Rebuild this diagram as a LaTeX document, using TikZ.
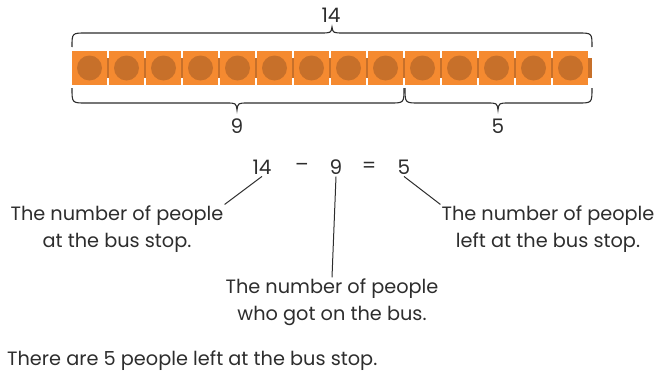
\documentclass[tikz,border=0pt]{standalone}
\usepackage{fontspec}
\setmainfont{Poppins}
\usepackage{xcolor}
\usepackage{tikz}
\usetikzlibrary{positioning}

\definecolor{cubeorange}{RGB}{245,138,48}
\definecolor{pegorange}{RGB}{199,112,42}
\definecolor{inkgray}{RGB}{45,45,45}

\begin{document}
\begin{tikzpicture}[
			x=1pt, y=-1pt,
			cube/.style   = {fill=cubeorange},
			peg/.style    = {fill=pegorange},
			bracket/.style = {draw=inkgray, line width=1.1pt},
			num/.style    = {inner sep=2pt, text=inkgray, font=\fontsize{20}{27}\selectfont},
			note/.style   = {align=center, inner sep=1pt, text=inkgray, font=\fontsize{19.3}{27}\selectfont},
			link/.style   = {draw=inkgray, line width=1pt}
			]
			\useasboundingbox (0,0) rectangle (657,375);

			% cube train
			\fill[peg] (72,58) rectangle (592,78);
			\foreach \i in {0,...,13} {
					\fill[cube] (72+37*\i,51) rectangle ++(35,34);
					\fill[peg] (89.5+37*\i,68) circle (12.5);
				}

			% braces
			\draw[bracket] (72,47) .. controls (72,33) .. (86,33) -- (320,33)
				.. controls (331,33) .. (332,27) .. controls (333,33) .. (344,33)
				-- (578,33) .. controls (592,33) .. (592,47);
			\draw[bracket] (72,88) .. controls (72,103) .. (86,103) -- (226,103)
				.. controls (236,103) .. (237,110) .. controls (238,103) .. (248,103)
				-- (390,103) .. controls (404,103) .. (404,88);
			\draw[bracket] (405,88) .. controls (405,103) .. (419,103) -- (487,103)
				.. controls (497,103) .. (498,110) .. controls (499,103) .. (509,103)
				-- (578,103) .. controls (592,103) .. (592,88);

			\node[num] (total) at (331,15) {14};
			\node[num] (part9) at (237,126) {9};
			\node[num] (part5) at (498,126) {5};

			% number sentence
			\node[num] (n14) at (262,167) {14};
			\node[num] (minus) at (302,167) {–};
			\node[num] (n9) at (336,167) {9};
			\node[num] (equals) at (369,167) {=};
			\node[num] (n5) at (404,167) {5};

			\node[note] (lblStart) at (117,229) {The number of people\\at the bus stop.};
			\node[note] (lblGot) at (332,302) {The number of people\\who got on the bus.};
			\node[note] (lblLeft) at (548,229) {The number of people\\left at the bus stop.};

			\draw[link] (n14.south) -- (lblStart.north east);
			\draw[link] (n9.south) -- (lblGot.north);
			\draw[link] (n5.south) -- (lblLeft.north west);

			\node[note, anchor=west] (answer) at (6,361) {There are 5 people left at the bus stop.};
		\end{tikzpicture}
\end{document}
